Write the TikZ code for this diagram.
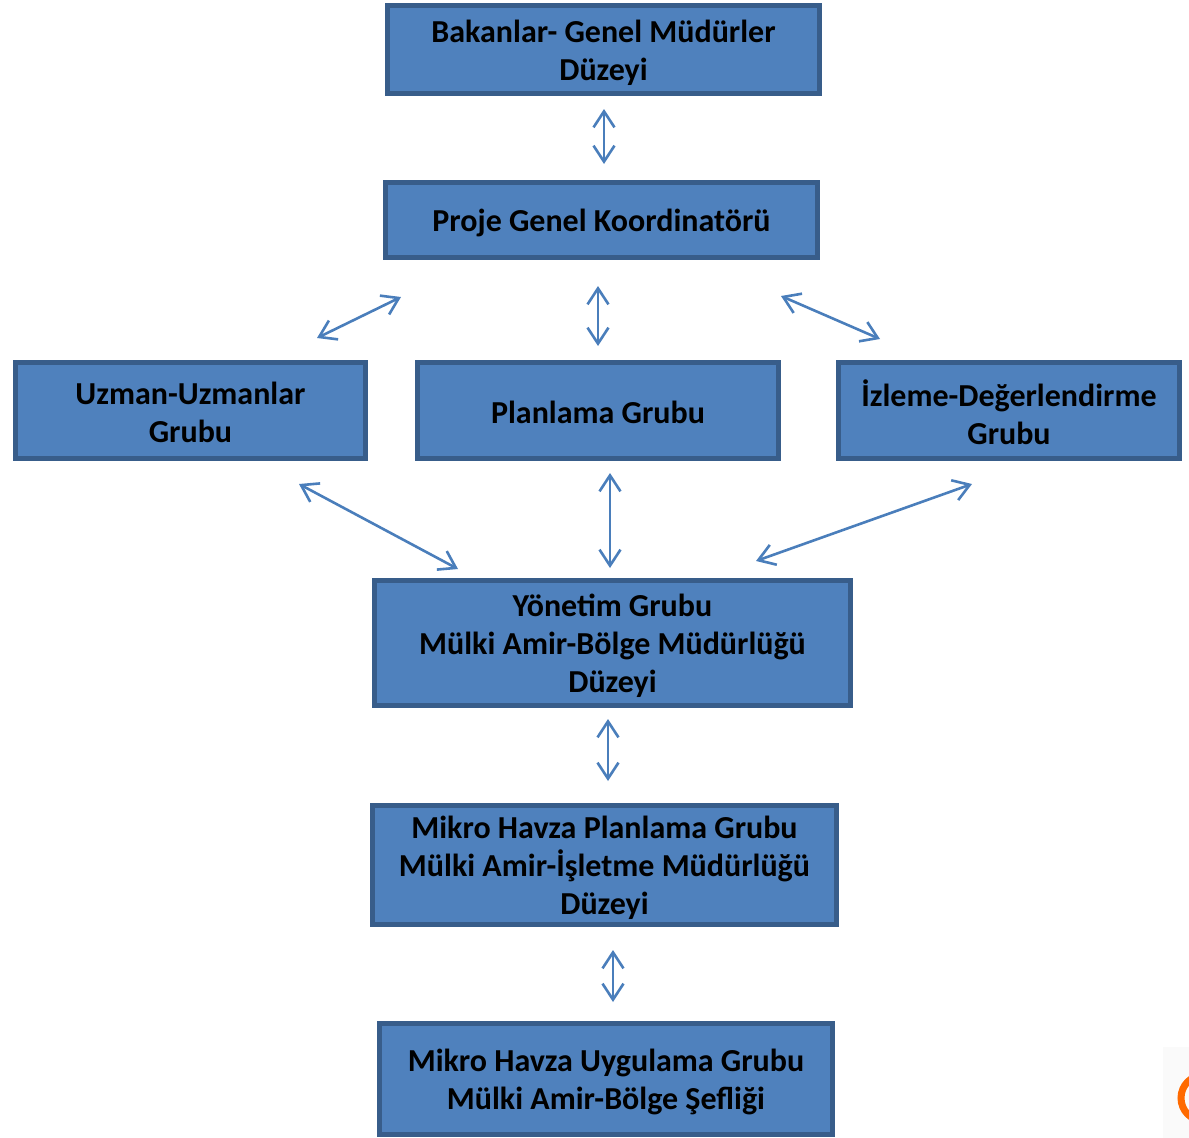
\documentclass[tikz,border=0pt]{standalone}
\usepackage{fontspec}
\setmainfont{Carlito}
\usetikzlibrary{arrows.meta}
\definecolor{boxfill}{HTML}{4F81BD}
\definecolor{boxline}{HTML}{385D8A}
\definecolor{linkblue}{HTML}{4A7EBB}
\definecolor{logoorange}{HTML}{FF6A00}
\tikzset{
  orgbox/.style={draw=boxline, fill=boxfill, line width=5pt, inner sep=0pt},
  orgtext/.style={inner sep=0pt, align=center, text=black,
    font=\bfseries\fontsize{32}{38}\selectfont},
  link/.style={draw=linkblue, line width=2.6pt,
    {Straight Barb[length=16pt,width=21pt]}-{Straight Barb[length=16pt,width=21pt]}}
}
\begin{document}
\begin{tikzpicture}[x=1pt,y=-1pt]
\useasboundingbox (0,0) rectangle (1189,1138);

% organisation boxes (size = outer extent minus line width)
\node[orgbox, minimum width=432pt, minimum height=88pt]  (bak) at (603.5,49.5) {};
\node[orgbox, minimum width=432pt, minimum height=75pt]  (pgk) at (601.5,220) {};
\node[orgbox, minimum width=350pt, minimum height=96pt]  (uzm) at (190.5,410.5) {};
\node[orgbox, minimum width=361pt, minimum height=96pt]  (pln) at (598,410.5) {};
\node[orgbox, minimum width=341pt, minimum height=96pt]  (izl) at (1009,410.5) {};
\node[orgbox, minimum width=476pt, minimum height=125pt] (yon) at (612.5,643) {};
\node[orgbox, minimum width=464pt, minimum height=119pt] (mhp) at (604.5,865) {};
\node[orgbox, minimum width=453pt, minimum height=111pt] (mhu) at (606,1079) {};

% box captions, set a little below the geometric centre
\node[orgtext] (bakt) at ([yshift=-3pt]bak.center) {Bakanlar- Genel Müdürler\\Düzeyi};
\node[orgtext] (pgkt) at ([yshift=-3pt]pgk.center) {Proje Genel Koordinatörü};
\node[orgtext] (uzmt) at ([yshift=-2pt]uzm.center) {Uzman-Uzmanlar\\Grubu};
\node[orgtext] (plnt) at ([yshift=-2pt]pln.center) {Planlama Grubu};
\node[orgtext] (izlt) at ([yshift=-2pt]izl.center) {İzleme-Değerlendirme\\Grubu};
\node[orgtext] (yont) at ([yshift=-3pt]yon.center) {Yönetim Grubu\\Mülki Amir-Bölge Müdürlüğü\\Düzeyi};
\node[orgtext] (mhpt) at ([yshift=-3pt]mhp.center) {Mikro Havza Planlama Grubu\\Mülki Amir-İşletme Müdürlüğü\\Düzeyi};
\node[orgtext] (mhut) at ([yshift=-3pt]mhu.center) {Mikro Havza Uygulama Grubu\\Mülki Amir-Bölge Şefliği};

% free ends of the two-way links
\coordinate (a1s) at (604,109);  \coordinate (a1e) at (604,164);
\coordinate (a2s) at (598,286);  \coordinate (a2e) at (598,346);
\coordinate (a3s) at (317,338);  \coordinate (a3e) at (401,297);
\coordinate (a4s) at (781,296);  \coordinate (a4e) at (880,339);
\coordinate (a5s) at (299,484);  \coordinate (a5e) at (458,569);
\coordinate (a6s) at (610,473);  \coordinate (a6e) at (610,568);
\coordinate (a7s) at (756,561);  \coordinate (a7e) at (972,484);
\coordinate (a8s) at (608,719);  \coordinate (a8e) at (608,781);
\coordinate (a9s) at (613,950);  \coordinate (a9e) at (613,1002);

\foreach \k in {1,...,9}
  \draw[link] (a\k s) -- (a\k e);

% corner logo fragment
\fill[black!2] (1163,1047) rectangle (1189,1138);
\begin{scope}
  \clip (0,0) rectangle (1189,1138);
  \draw[logoorange, line width=7pt] (1204,1098) circle (23pt);
\end{scope}
\end{tikzpicture}
\end{document}
